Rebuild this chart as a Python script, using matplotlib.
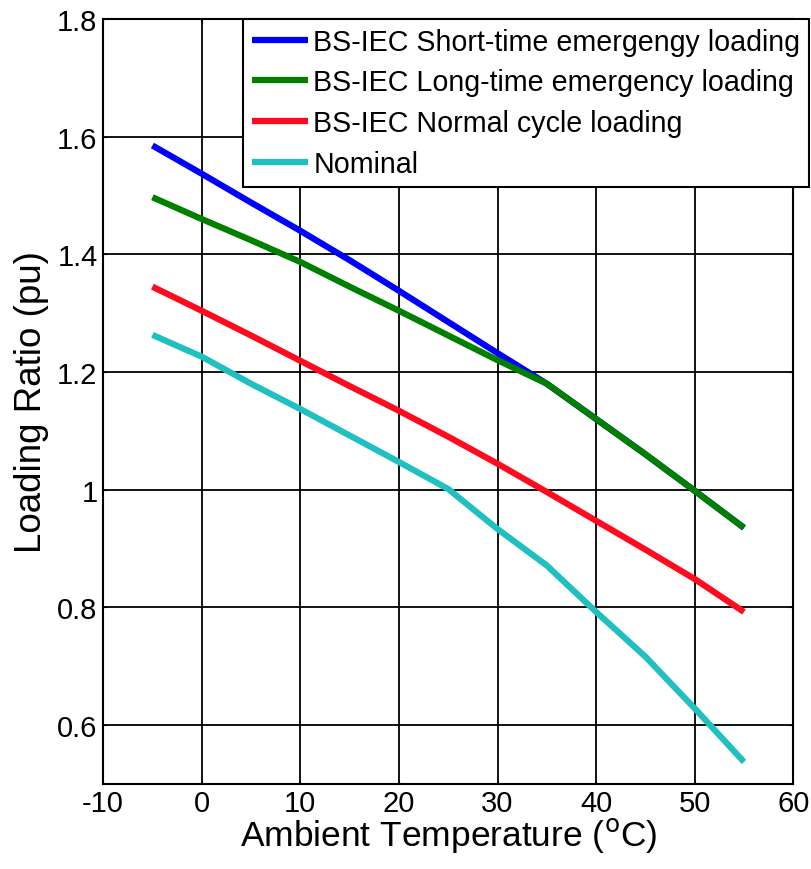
import numpy as np
import matplotlib
matplotlib.use("Agg")
import matplotlib.pyplot as plt

plt.rcParams['font.family'] = ['Liberation Sans', 'DejaVu Sans']
plt.rcParams['axes.unicode_minus'] = False

temp = [-5, 0, 5, 10, 15, 20, 25, 30, 35, 40, 45, 50, 55]
short_time = [1.585, 1.537, 1.488, 1.440, 1.390, 1.338, 1.285, 1.232, 1.180, 1.120, 1.060, 0.998, 0.935]
long_time = [1.497, 1.460, 1.424, 1.387, 1.345, 1.304, 1.262, 1.220, 1.180, 1.120, 1.060, 0.998, 0.935]
normal = [1.345, 1.304, 1.262, 1.219, 1.176, 1.134, 1.090, 1.044, 0.996, 0.947, 0.898, 0.848, 0.792]
nominal = [1.263, 1.226, 1.180, 1.137, 1.092, 1.047, 1.001, 0.933, 0.871, 0.792, 0.716, 0.628, 0.537]

labels = ["BS-IEC Short-time emergengy loading",
          "BS-IEC Long-time emergency loading",
          "BS-IEC Normal cycle loading",
          "Nominal"]
colors = ["#0000ff", "#007f00", "#ff0a1e", "#20c0c0"]

fig = plt.figure(figsize=(8.12, 8.70), dpi=100)
ax = fig.add_axes([0.127, 0.098, 0.850, 0.879])

for y, lab, c in zip([short_time, long_time, normal, nominal], labels, colors):
    ax.plot(temp, y, color=c, lw=4.5, label=lab, solid_capstyle='butt')

ax.set_xlim(-10, 60)
ax.set_ylim(0.5, 1.8)
ax.set_xticks(np.arange(-10, 61, 10))
ax.set_yticks([0.6, 0.8, 1.0, 1.2, 1.4, 1.6, 1.8])
ax.set_yticklabels(["0.6", "0.8", "1", "1.2", "1.4", "1.6", "1.8"])
ax.grid(True, color='black', lw=1.3, ls='-')
ax.set_axisbelow(True)
ax.tick_params(direction='in', length=3, labelsize=21, pad=4, top=True, right=True)
for s in ax.spines.values():
    s.set_linewidth(1.5)

ax.set_xlabel("Ambient Temperature ($^{\\rm o}$C)", fontsize=25.5, labelpad=-2)
ax.set_ylabel("Loading Ratio (pu)", fontsize=26.5, labelpad=6)

leg = ax.legend(loc='upper left', bbox_to_anchor=(0.203, 1.0), fontsize=20.6,
                fancybox=False, framealpha=1, edgecolor='black',
                handlelength=1.95, handletextpad=0.2, labelspacing=0.45,
                borderpad=0.3, borderaxespad=0)
leg.get_frame().set_linewidth(1.5)

plt.savefig("out.png", dpi=100)
